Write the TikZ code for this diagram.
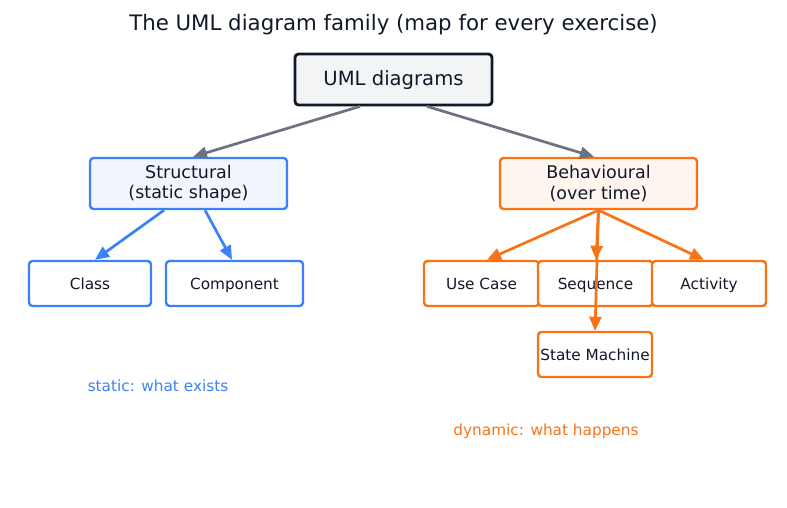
\documentclass[tikz,border=0pt]{standalone}
\usepackage{fontspec}
\setmainfont{DejaVu Sans}
\usetikzlibrary{arrows.meta}
\definecolor{slate}{HTML}{6B7280}
\definecolor{sky}{HTML}{3B82F6}
\definecolor{tangerine}{HTML}{F97316}
\definecolor{coal}{HTML}{111827}
\definecolor{mist}{HTML}{F3F4F6}
\tikzset{
  >={Triangle[length=14pt,width=12pt]},
  root/.style={draw=coal,fill=mist,rounded corners=3.5pt,line width=2.8pt,
    minimum width=197pt,minimum height=51pt,text height=14.3pt,text depth=1.5pt,
    text=coal,font=\fontsize{19.6}{23}\selectfont},
  group/.style={draw=#1,fill=#1!7,rounded corners=3.5pt,line width=2.4pt,
    minimum width=197pt,minimum height=51pt,align=center,text=coal,
    font=\fontsize{17.5}{20.3}\selectfont},
  group/.default=sky,
  leaf/.style={draw=#1,fill=white,rounded corners=3.5pt,line width=2.4pt,
    minimum height=45pt,inner sep=2pt,text height=11pt,text depth=0pt,
    text=coal,font=\fontsize{15.3}{18}\selectfont},
  leaf/.default=sky,
  link/.style={->,line width=2.7pt,draw=#1,fill=#1},
  link/.default=slate,
  note/.style={font=\fontsize{15.3}{18}\selectfont,text=#1},
}

\begin{document}
\begin{tikzpicture}[x=1pt,y=-1pt]
  \useasboundingbox (0,0) rectangle (787,508);
  \node[font=\fontsize{21.3}{25}\selectfont,text=coal] (title) at (393.5,25)
    {The UML diagram family (map for every exercise)};
  \node[root] (uml) at (393.5,79.5) {UML diagrams};
  \node[group=sky] (str) at (188.5,183.5) {Structural\\(static shape)};
  \node[group=tangerine] (beh) at (598.5,183.5) {Behavioural\\(over time)};
  % leaves
  \foreach \id/\txt/\x/\w/\col in {cls/Class/90/122/sky,cmp/Component/234.5/137/sky,
    uc/Use Case/481.5/115/tangerine,seq/Sequence/595.5/115/tangerine,act/Activity/709/114/tangerine}
    \node[leaf=\col,minimum width=\w pt] (\id) at (\x,283.5) {\txt};
  \node[leaf=tangerine,minimum width=114pt] (sm) at (595,354.5) {State Machine};
  % links
  \draw[link] ([xshift=-33.5pt]uml.south) -- ([xshift=4.5pt]str.north);
  \draw[link] ([xshift=33.5pt]uml.south) -- ([xshift=-4.5pt]beh.north);
  \draw[link=sky] ([xshift=-24.5pt]str.south) -- ([xshift=5pt]cls.north);
  \draw[link=sky] ([xshift=16.5pt]str.south) -- ([xshift=-2.5pt]cmp.north);
  \foreach \to/\dx in {uc/5.5,seq/0.5,act/-5,sm/0}
    \draw[link=tangerine] (beh.south) -- ([xshift=\dx pt]\to.north);
  % notes
  \node[note=sky] (stat) at (158,386) {static: what exists};
  \node[note=tangerine] (dyn) at (546,431) {dynamic: what happens};
\end{tikzpicture}
\end{document}
